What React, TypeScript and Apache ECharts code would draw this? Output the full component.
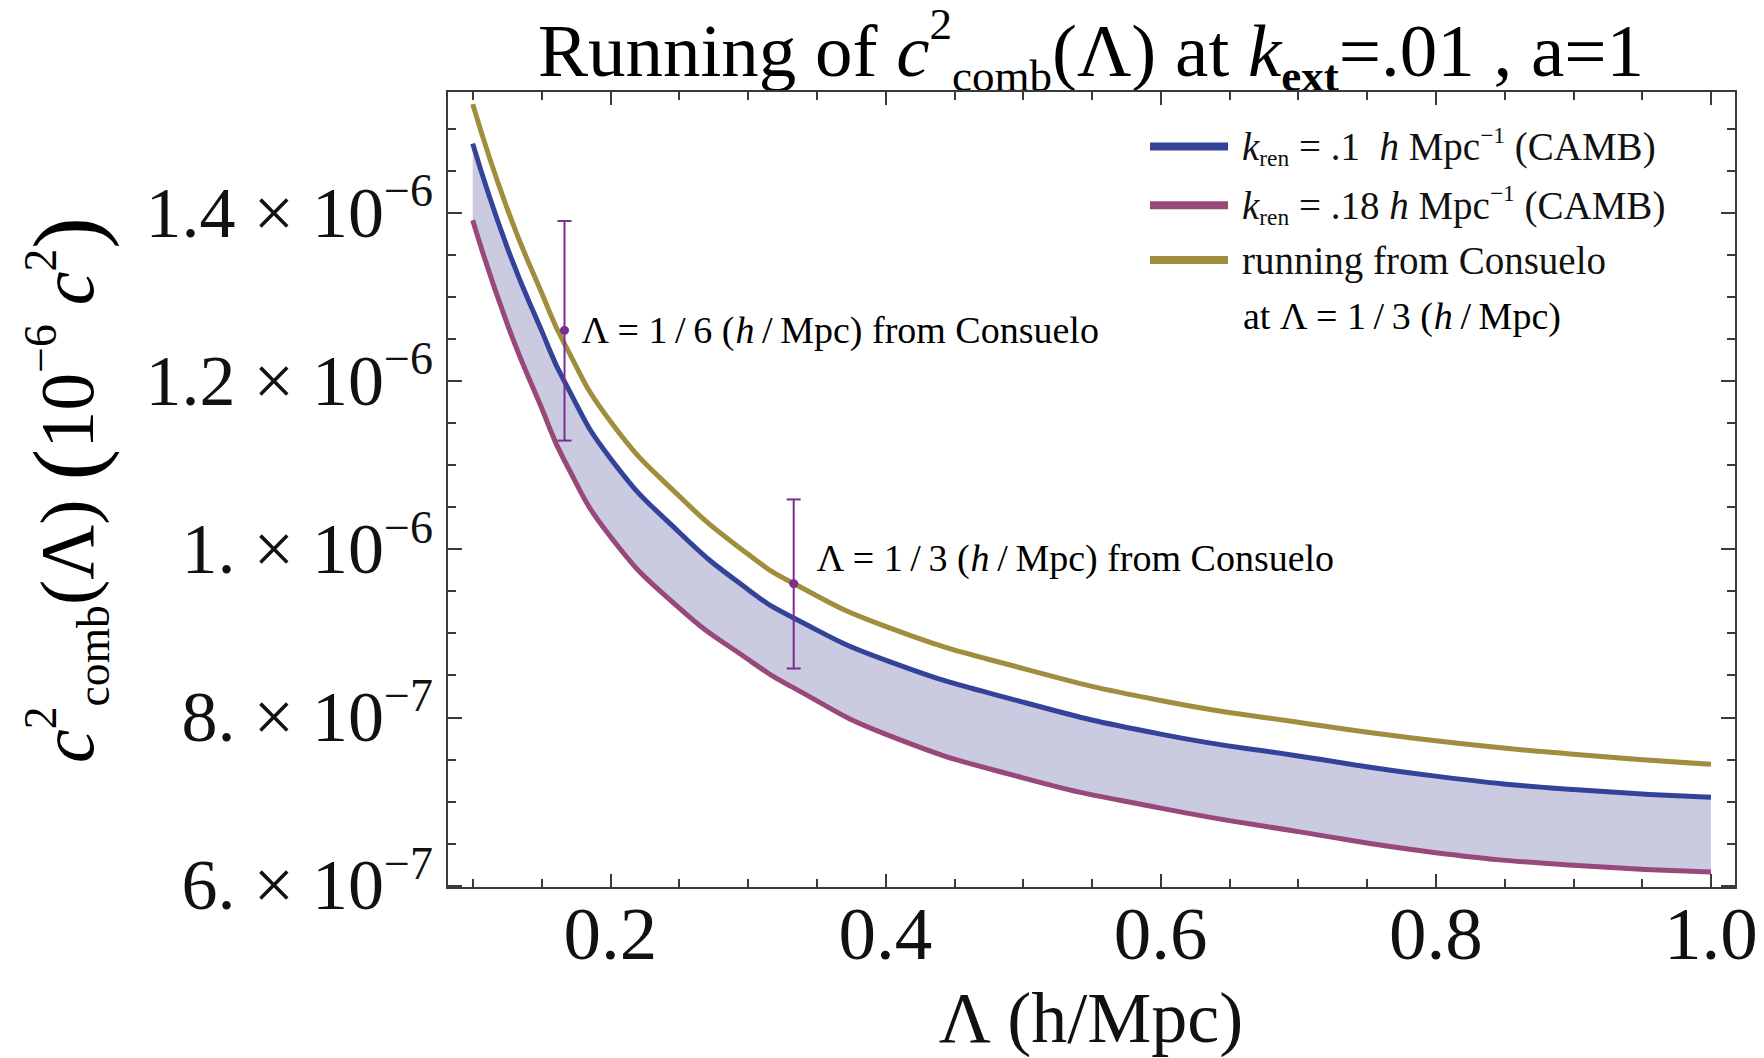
import React, { useEffect, useRef } from 'react';
import * as echarts from 'echarts';

// ---------- data (values in units of 10^-6 c^2) ----------
const lambdaValues = [0.1, 0.125, 0.15, 0.1667, 0.2, 0.25, 0.3, 0.3333, 0.4, 0.5, 0.6, 0.7, 0.8, 0.9, 1.0];
const kren01Values = [1.482, 1.359, 1.260, 1.199, 1.108, 1.020, 0.952, 0.918, 0.868, 0.818, 0.780, 0.754, 0.730, 0.714, 0.705];
const kren018Values = [1.391, 1.268, 1.168, 1.105, 1.015, 0.930, 0.869, 0.835, 0.780, 0.728, 0.692, 0.664, 0.639, 0.624, 0.616];
const consueloValues = [1.529, 1.405, 1.305, 1.244, 1.152, 1.063, 0.994, 0.959, 0.908, 0.858, 0.820, 0.794, 0.772, 0.756, 0.744];

const errLambda = [0.1667, 0.3333];
const errCenter = [1.260, 0.959];
const errLow = [1.129, 0.858];
const errHigh = [1.390, 1.059];
const errLabels = ['1\u2009/\u20096', '1\u2009/\u20093'];

const xMajorTicks = [0.2, 0.4, 0.6, 0.8, 1.0];
const xMinorTicks = [0.1, 0.15, 0.25, 0.3, 0.35, 0.45, 0.5, 0.55, 0.65, 0.7, 0.75, 0.85, 0.9, 0.95];
const yMajorTicks = [0.6, 0.8, 1.0, 1.2, 1.4];
const yMinorTicks = [0.65, 0.7, 0.75, 0.85, 0.9, 0.95, 1.05, 1.1, 1.15, 1.25, 1.3, 1.35, 1.45, 1.5];
const yTickMantissas = ['6.', '8.', '1.', '1.2', '1.4'];
const yTickExponents = ['−7', '−7', '−6', '−6', '−6'];

const seriesNames = ['kren01', 'kren018', 'consuelo'];

// ---------- styling ----------
const serif = "'Liberation Serif', 'Times New Roman', serif";
const ink = '#111111';
const frame = '#3a3a3a';
const blue = '#34439a';
const magenta = '#99487a';
const gold = '#a08d3e';
const bandFill = '#cacae1';
const errColor = '#7b2d8e';

const X_MIN = 0.0813;
const X_MAX = 1.0182;
const Y_MIN = 0.597;
const Y_MAX = 1.5446;

function richSet(N: number, lh = 1.3) {
  return {
    pad: { width: 9, fontSize: N, lineHeight: lh * N },
    n: { fontSize: N, fontFamily: serif, color: ink, lineHeight: lh * N },
    i: { fontSize: N, fontFamily: serif, fontStyle: 'italic', color: ink, lineHeight: lh * N },
    big: { fontSize: 1.25 * N, fontFamily: serif, color: ink, lineHeight: lh * N },
    sup: { fontSize: 0.6 * N, fontFamily: serif, color: ink, verticalAlign: 'top', lineHeight: 0.62 * N },
    sub: { fontSize: 0.6 * N, fontFamily: serif, color: ink, verticalAlign: 'bottom', lineHeight: 0.62 * N },
    subb: { fontSize: 0.6 * N, fontFamily: serif, fontWeight: 'bold', color: ink, verticalAlign: 'bottom', lineHeight: 0.62 * N },
  };
}

const legendTexts: Record<string, string> = {
  kren01: '{pad|}{i|k}{sub|ren}{n| = .1  }{i|h}{n| Mpc}{sup|−1}{n| (CAMB)}',
  kren018: '{pad|}{i|k}{sub|ren}{n| = .18 }{i|h}{n| Mpc}{sup|−1}{n| (CAMB)}',
  consuelo: '{pad|}{n|running from Consuelo}',
};

function tickAxis(kind: 'x' | 'y', position: string, ticks: number[], len: number, showLine: boolean) {
  return {
    type: 'value',
    position,
    z: 20,
    min: kind === 'x' ? X_MIN : Y_MIN,
    max: kind === 'x' ? X_MAX : Y_MAX,
    axisLine: { show: showLine, onZero: false, lineStyle: { color: frame, width: 2 } },
    axisTick: { show: true, inside: true, length: len, customValues: ticks, lineStyle: { color: frame, width: 2 } },
    axisLabel: { show: false },
    splitLine: { show: false },
  };
}

export default function App() {
  const ref = useRef<HTMLDivElement>(null);

  useEffect(() => {
    if (!ref.current) return;
    const chart = echarts.init(ref.current, undefined, { renderer: 'svg' });

    const pairs = (arr: number[]) => lambdaValues.map((x, i) => [x, arr[i]]);
    const annRich = richSet(38);
    const legendRich = richSet(39, 1.2);
    const last = lambdaValues.length - 1;
    const smooth = 0.5;

    const option: any = {
      animation: false,
      backgroundColor: '#ffffff',
      grid: { left: 447, right: 28, top: 91, bottom: 170, containLabel: false },
      xAxis: [
        {
          ...tickAxis('x', 'bottom', xMajorTicks, 14, true),
          axisLabel: {
            show: true,
            customValues: xMajorTicks,
            formatter: (v: number) => v.toFixed(1),
            fontSize: 75,
            fontFamily: serif,
            color: ink,
            margin: 8,
          },
        },
        tickAxis('x', 'bottom', xMinorTicks, 9, false),
        tickAxis('x', 'top', xMajorTicks, 14, true),
        tickAxis('x', 'top', xMinorTicks, 9, false),
      ],
      yAxis: [
        {
          ...tickAxis('y', 'left', yMajorTicks, 15, true),
          axisLabel: {
            show: true,
            customValues: yMajorTicks,
            margin: 14,
            formatter: (v: number) => {
              const i = yMajorTicks.findIndex((t) => Math.abs(t - v) < 1e-6);
              if (i < 0) return '';
              return `{m|${yTickMantissas[i]} × 10}{e|${yTickExponents[i]}}`;
            },
            rich: {
              m: { fontSize: 72, fontFamily: serif, color: ink, lineHeight: 90 },
              e: { fontSize: 46, fontFamily: serif, color: ink, verticalAlign: 'top', lineHeight: 46 },
            },
          },
        },
        tickAxis('y', 'left', yMinorTicks, 9, false),
        tickAxis('y', 'right', yMajorTicks, 15, true),
        tickAxis('y', 'right', yMinorTicks, 9, false),
      ],
      legend: {
        data: seriesNames,
        orient: 'vertical',
        left: 1150,
        top: 123,
        padding: 0,
        itemWidth: 78,
        itemHeight: 8,
        itemGap: 12,
        icon: 'rect',
        selectedMode: false,
        formatter: (name: string) => legendTexts[name],
        textStyle: { rich: legendRich, fontFamily: serif, fontSize: 39, color: ink },
      },
      graphic: [
        {
          type: 'text',
          x: 1091,
          y: 50,
          style: {
            text: '{n|Running of }{i|c}{sup|2}{sub|comb}{n|(Λ) at }{i|k}{subb|ext}{n|=.01 , a=1}',
            rich: richSet(75),
            align: 'center',
            verticalAlign: 'middle',
          },
        },
        {
          type: 'text',
          x: 1091,
          y: 1018,
          style: {
            text: 'Λ (h/Mpc)',
            fontSize: 72,
            fontFamily: serif,
            fill: ink,
            align: 'center',
            verticalAlign: 'middle',
          },
        },
        {
          type: 'text',
          x: 67,
          y: 490,
          rotation: Math.PI / 2,
          style: {
            text: '{i|c}{sup|2}{sub|comb}{n|(Λ) }{big|(}{n|10}{sup|−6}{n| }{i|c}{sup|2}{big|)}',
            rich: richSet(76),
            align: 'center',
            verticalAlign: 'middle',
          },
        },
        {
          type: 'text',
          x: 1243,
          y: 316,
          style: {
            text: '{n|at Λ = 1\u2009/\u20093 (}{i|h}{n|\u2009/\u2009Mpc)}',
            rich: richSet(38, 1.2),
            align: 'left',
            verticalAlign: 'middle',
          },
        },
      ],
      series: [
        {
          type: 'line',
          name: 'kren01',
          data: pairs(kren01Values),
          smooth,
          symbol: 'none',
          lineStyle: { color: blue, width: 5 },
          itemStyle: { color: blue },
          areaStyle: { color: bandFill, opacity: 1, origin: 'start' },
          z: 2,
        },
        {
          type: 'line',
          name: 'kren018',
          data: pairs(kren018Values),
          smooth,
          symbol: 'none',
          lineStyle: { color: magenta, width: 5 },
          itemStyle: { color: magenta },
          areaStyle: { color: '#ffffff', opacity: 1, origin: 'start' },
          z: 3,
        },
        {
          // hides the anti-aliased edge of the band fill below the lower curve
          type: 'custom',
          name: 'bandEdgeMask',
          z: 3,
          silent: true,
          data: [
            [lambdaValues[0], kren018Values[0]],
            [lambdaValues[last], kren018Values[last]],
          ],
          renderItem: (_params: any, api: any) => {
            const top = api.coord([api.value(0), api.value(1)]);
            const bottom = api.coord([api.value(0), Y_MIN]);
            return {
              type: 'line',
              shape: { x1: top[0], y1: top[1] + 4, x2: bottom[0], y2: bottom[1] - 1 },
              style: { stroke: '#ffffff', lineWidth: 3 },
            };
          },
        },
        {
          type: 'line',
          name: 'consuelo',
          data: pairs(consueloValues),
          smooth,
          symbol: 'none',
          lineStyle: { color: gold, width: 5 },
          itemStyle: { color: gold },
          z: 5,
        },
        {
          type: 'custom',
          name: 'consueloPoints',
          z: 10,
          data: errLambda.map((x, i) => [x, errCenter[i], errLow[i], errHigh[i], i]),
          renderItem: (_params: any, api: any) => {
            const x = api.value(0);
            const idx = api.value(4);
            const c = api.coord([x, api.value(1)]);
            const lo = api.coord([x, api.value(2)]);
            const hi = api.coord([x, api.value(3)]);
            const dx = idx === 0 ? 17 : 23;
            const dy = idx === 0 ? 0 : -26;
            const st = { stroke: errColor, lineWidth: 2 };
            return {
              type: 'group',
              children: [
                { type: 'line', shape: { x1: c[0], y1: lo[1], x2: c[0], y2: hi[1] }, style: st },
                { type: 'line', shape: { x1: c[0] - 7, y1: lo[1], x2: c[0] + 7, y2: lo[1] }, style: st },
                { type: 'line', shape: { x1: c[0] - 7, y1: hi[1], x2: c[0] + 7, y2: hi[1] }, style: st },
                { type: 'circle', shape: { cx: c[0], cy: c[1], r: 4.5 }, style: { fill: errColor } },
                {
                  type: 'text',
                  x: c[0] + dx,
                  y: c[1] + dy,
                  style: {
                    text: `{n|Λ = ${errLabels[idx]} (}{i|h}{n|\u2009/\u2009Mpc) from Consuelo}`,
                    rich: annRich,
                    align: 'left',
                    verticalAlign: 'middle',
                  },
                },
              ],
            };
          },
        },
      ],
    };

    chart.setOption(option);
    return () => {
      chart.dispose();
    };
  }, []);

  return (
    <div
      ref={ref}
      style={{ position: 'fixed', left: 0, top: 0, width: 1764, height: 1058, background: '#ffffff' }}
    />
  );
}
